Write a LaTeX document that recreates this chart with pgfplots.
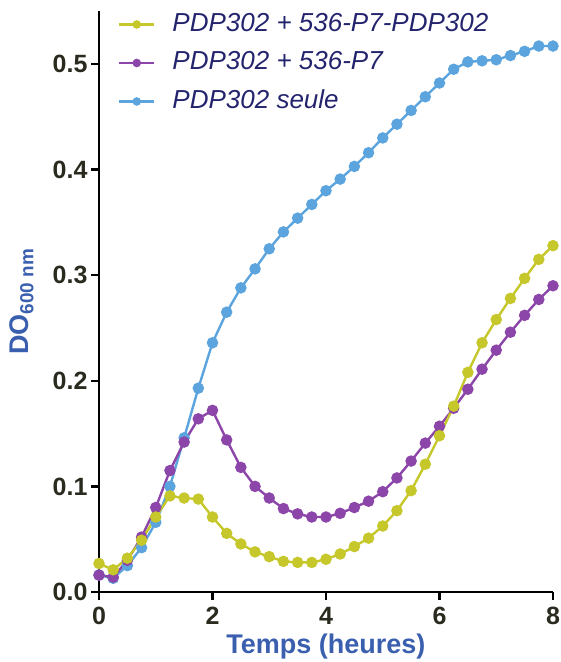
\documentclass[border=0pt]{standalone}
\usepackage{pgfplots}
\pgfplotsset{compat=1.18}
\usepackage{pgfplotstable}
\usepackage{fontspec}
\setmainfont{Liberation Sans}
\definecolor{cyel}{HTML}{C5C72A}
\definecolor{cpur}{HTML}{8C45A8}
\definecolor{cblu}{HTML}{5BA4DE}
\definecolor{ctxt}{HTML}{23236E}
\definecolor{clab}{HTML}{3A5FAF}
\definecolor{ctick}{HTML}{2A2A1F}
\pgfplotstableread{
t blue purple yellow
0    0.016 0.016 0.027
0.25 0.013 0.014 0.021
0.5  0.025 0.030 0.032
0.75 0.042 0.052 0.049
1.0  0.066 0.080 0.071
1.25 0.100 0.115 0.091
1.5  0.146 0.142 0.089
1.75 0.193 0.164 0.088
2.0  0.236 0.172 0.071
2.25 0.265 0.144 0.0555
2.5  0.288 0.118 0.0455
2.75 0.306 0.100 0.038
3.0  0.325 0.089 0.0335
3.25 0.341 0.079 0.029
3.5  0.354 0.074 0.028
3.75 0.367 0.071 0.028
4.0  0.380 0.071 0.031
4.25 0.391 0.0745 0.036
4.5  0.403 0.080 0.043
4.75 0.416 0.086 0.051
5.0  0.430 0.095 0.0625
5.25 0.443 0.108 0.077
5.5  0.456 0.124 0.096
5.75 0.469 0.141 0.121
6.0  0.482 0.157 0.148
6.25 0.495 0.174 0.176
6.5  0.502 0.192 0.208
6.75 0.503 0.211 0.236
7.0  0.504 0.229 0.258
7.25 0.508 0.246 0.278
7.5  0.512 0.262 0.297
7.75 0.517 0.277 0.315
8.0  0.517 0.290 0.328
}\data
\begin{document}
\begin{tikzpicture}
\useasboundingbox (-99pt,-70pt) rectangle (462pt,592pt);
\begin{axis}[
  scale only axis,
  width=454pt, height=580.8pt,
  xmin=0, xmax=8, ymin=0, ymax=0.55,
  clip=false,
  axis x line=bottom, axis y line=left,
  axis line style={-, line width=2.4pt, black},
  xtick={0,2,4,6,8},
  ytick={0,0.1,0.2,0.3,0.4,0.5},
  tick align=outside,
  major tick length=8pt,
  every tick/.style={line width=2.4pt, black},
  /pgf/number format/assume math mode=true,
  yticklabel style={/pgf/number format/fixed, /pgf/number format/fixed zerofill, /pgf/number format/precision=1, font=\bfseries\fontsize{25}{25}\selectfont, text=ctick},
  xticklabel style={font=\bfseries\fontsize{25}{25}\selectfont, text=ctick, yshift=-4pt},
  xlabel={Temps (heures)},
  ylabel={DO\textsubscript{600 nm}},
  xlabel style={font=\bfseries\fontsize{27}{27}\selectfont, text=clab, at={(axis description cs:0.5,-0.0947)}, anchor=center},
  ylabel style={font=\bfseries\fontsize{27}{27}\selectfont, text=clab, at={(axis description cs:-0.17,0.5)}, anchor=center},
  legend style={draw=none, fill=none, at={(axis description cs:0.035,1.005)}, anchor=north west,
    font=\itshape\fontsize{26}{26}\selectfont, text=ctxt, row sep=10.5pt,
    nodes={text height=19pt, text depth=5pt},
    /tikz/every odd column/.append style={column sep=15pt}},
  legend cell align=left,
  reverse legend,
  legend image code/.code={\draw[mark repeat=2, mark phase=2, mark size=3pt, line width=2.4pt] plot coordinates {(0pt,0pt)(17.5pt,0pt)(35pt,0pt)};},
]
\addplot[color=cblu, line width=2.4pt, mark=*, mark size=4.5pt] table[x=t, y=blue] {\data};
\addlegendentry{PDP302 seule}
\addplot[color=cpur, line width=2.4pt, mark=*, mark size=4.5pt] table[x=t, y=purple] {\data};
\addlegendentry{PDP302 + 536-P7}
\addplot[color=cyel, line width=2.4pt, mark=*, mark size=4.5pt] table[x=t, y=yellow] {\data};
\addlegendentry{PDP302 + 536-P7-PDP302}
\end{axis}
\end{tikzpicture}
\end{document}
